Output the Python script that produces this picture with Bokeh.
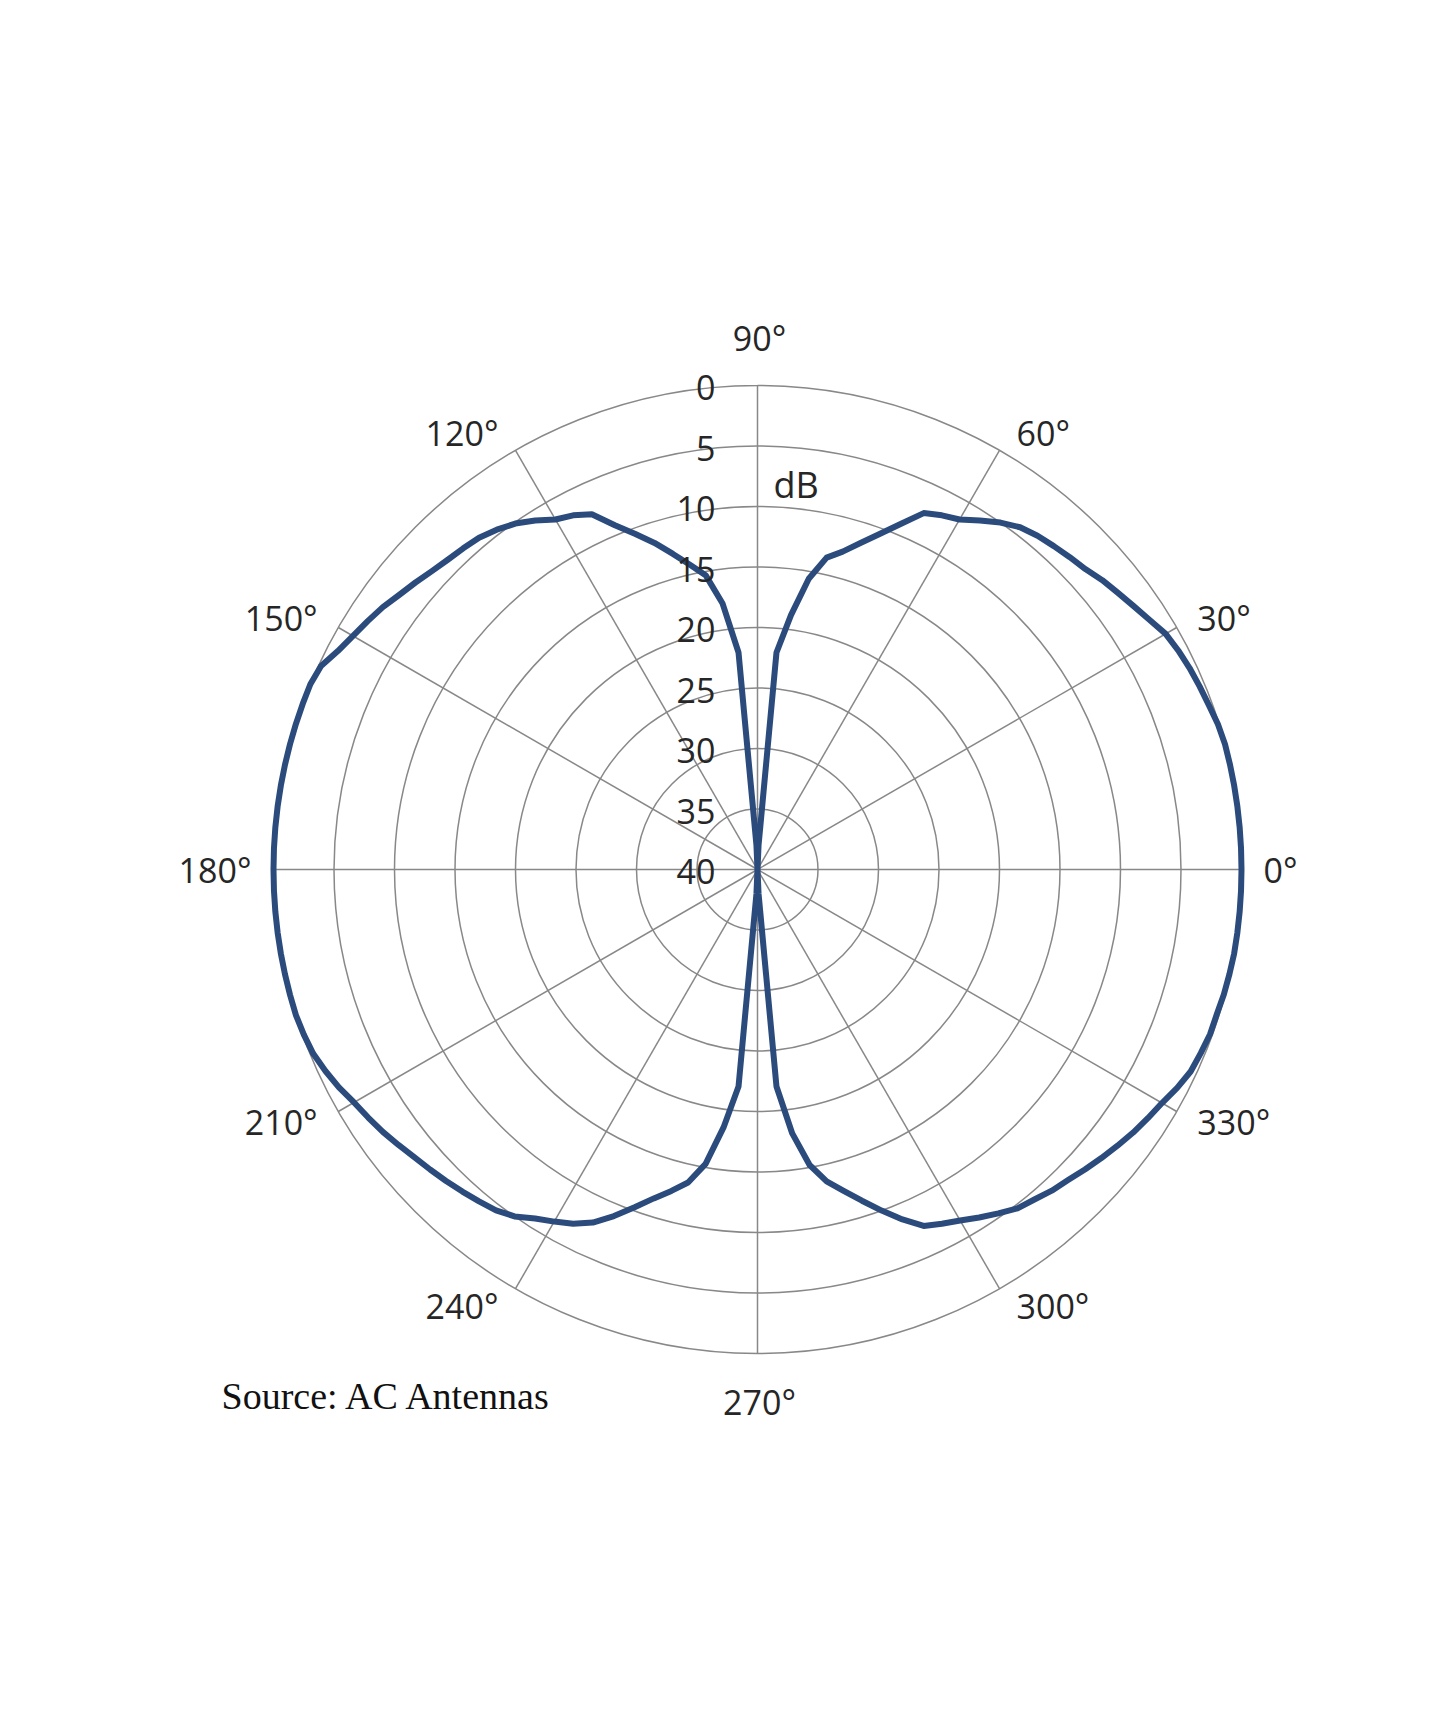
import numpy as np
from bokeh.core.properties import value
from bokeh.embed import file_html
from bokeh.models import ColumnDataSource, Range1d
from bokeh.plotting import figure
from bokeh.resources import INLINE

# radar data: attenuation in dB read every 2.5 degrees (0 = outer ring, 40 = centre)
step = 2.5
q1_db = [0, 0, 0, 0, 0, 0, 0, 0.1, 0.3, 0.45, 0.6, 0.8, 1.05, 1.6, 2.05, 2.45, 2.8, 3.25,
         3.5, 3.75, 4.0, 4.35, 5.0, 5.8, 6.6, 7.0, 7.5, 9.1, 10.5, 11.7, 12.8, 13.6, 15.6,
         18.8, 22, 38]
q2_db = [40, 38, 22, 17.8, 15.3, 14.2, 13.0, 11.7, 10.5, 9.2, 7.6, 7.0, 6.6, 5.8, 5.1, 4.6,
         4.2, 4.0, 3.8, 3.5, 3.1, 2.7, 2.2, 1.8, 1.4, 0.9, 0.2, 0, 0, 0, 0, 0, 0, 0, 0, 0]
q3_db = [0, 0, 0, 0, 0, 0, 0, 0, 0.1, 0.25, 0.6, 1.0, 1.5, 1.85, 2.2, 2.6, 3.0, 3.3, 3.6,
         3.9, 4.2, 4.5, 5.0, 5.8, 6.4, 7.0, 7.8, 9.0, 10.3, 11.5, 12.5, 13.5, 15.3, 18.5,
         22, 38]
q4_db = [40, 38, 22, 18, 15.2, 13.6, 12.5, 11.3, 10.0, 8.7, 7.5, 7.0, 6.5, 5.9, 5.3, 4.7,
         4.4, 4.0, 3.7, 3.3, 2.9, 2.5, 2.1, 1.75, 1.4, 0.9, 0.5, 0.35, 0.2, 0.2, 0.1, 0.05,
         0, 0, 0, 0]
attenuation_db = q1_db + q2_db + q3_db + q4_db
angles_deg = [i * step for i in range(len(attenuation_db))]

ring_ticks = [0, 5, 10, 15, 20, 25, 30, 35, 40]
spoke_angles = [0, 30, 60, 90, 120, 150, 180, 210, 240, 270, 300, 330]
spoke_labels = [f"{a}°" for a in spoke_angles]
db_max = 40

W, H = 1429, 1718
PX = 12.1          # pixels per dB
CX, CY = 757, 869  # centre of the chart inside the frame, pixels

p = figure(
    width=W, height=H,
    x_range=Range1d(-CX / PX, (W - CX) / PX),
    y_range=Range1d(-(H - CY) / PX, CY / PX),
    output_backend="svg",
    toolbar_location=None,
    x_axis_location=None, y_axis_location=None,
    min_border=0,
)
p.grid.visible = False
p.outline_line_color = None
p.background_fill_color = "white"
p.border_fill_color = "white"

grid_color = "#888888"
text_color = "#262626"

# rings
radii = [db_max - t for t in ring_ticks[:-1]]
p.circle(x=0, y=0, radius=radii, fill_color=None, line_color=grid_color, line_width=1.5)

# spokes
th = np.radians(spoke_angles)
p.segment(x0=0, y0=0, x1=db_max * np.cos(th), y1=db_max * np.sin(th),
          line_color=grid_color, line_width=1.5)

# pattern
a = np.radians(angles_deg + [angles_deg[0]])
r = db_max - np.array(attenuation_db + [attenuation_db[0]])
p.line(r * np.cos(a), r * np.sin(a), line_color="#2b4b7d", line_width=6,
       line_join="round")

# angle labels
c, s = np.cos(th), np.sin(th)
align = ["left" if ci > 0.1 else "right" if ci < -0.1 else "center" for ci in c]
xoff = [np.sign(ci) * (12 + 10 * abs(ci)) if abs(ci) > 0.1 else 2 for ci in c]
yoff = [-20 * si if abs(ci) > 0.1 else -48 * np.sign(si) for ci, si in zip(c, s)]
lab = ColumnDataSource(dict(x=db_max * c, y=db_max * s, text=spoke_labels,
                            align=align, xoff=xoff, yoff=yoff))
p.text(x="x", y="y", text="text", source=lab, text_align="align", x_offset="xoff",
       y_offset="yoff", text_baseline="middle", text_font=value("Open Sans"),
       text_font_size="34px", text_color=text_color)

# ring labels
ticks = ColumnDataSource(dict(x=[0] * len(ring_ticks),
                              y=[db_max - t for t in ring_ticks],
                              text=[str(t) for t in ring_ticks]))
p.text(x="x", y="y", text="text", source=ticks, text_align="right", x_offset=-42,
       y_offset=2, text_baseline="middle", text_font=value("Open Sans"),
       text_font_size="34px", text_color=text_color)

p.text(x=[0], y=[385 / PX], text=["dB"], x_offset=16, text_align="left",
       text_baseline="middle", text_font=value("Open Sans"), text_font_size="36px",
       text_color=text_color)

p.text(x=[-536 / PX], y=[-526 / PX], text=["Source: AC Antennas"], text_align="left",
       text_baseline="middle", text_font=value("Liberation Serif"),
       text_font_size="38px", text_color="#111111")

open("out.html", "w").write(file_html(p, INLINE))
